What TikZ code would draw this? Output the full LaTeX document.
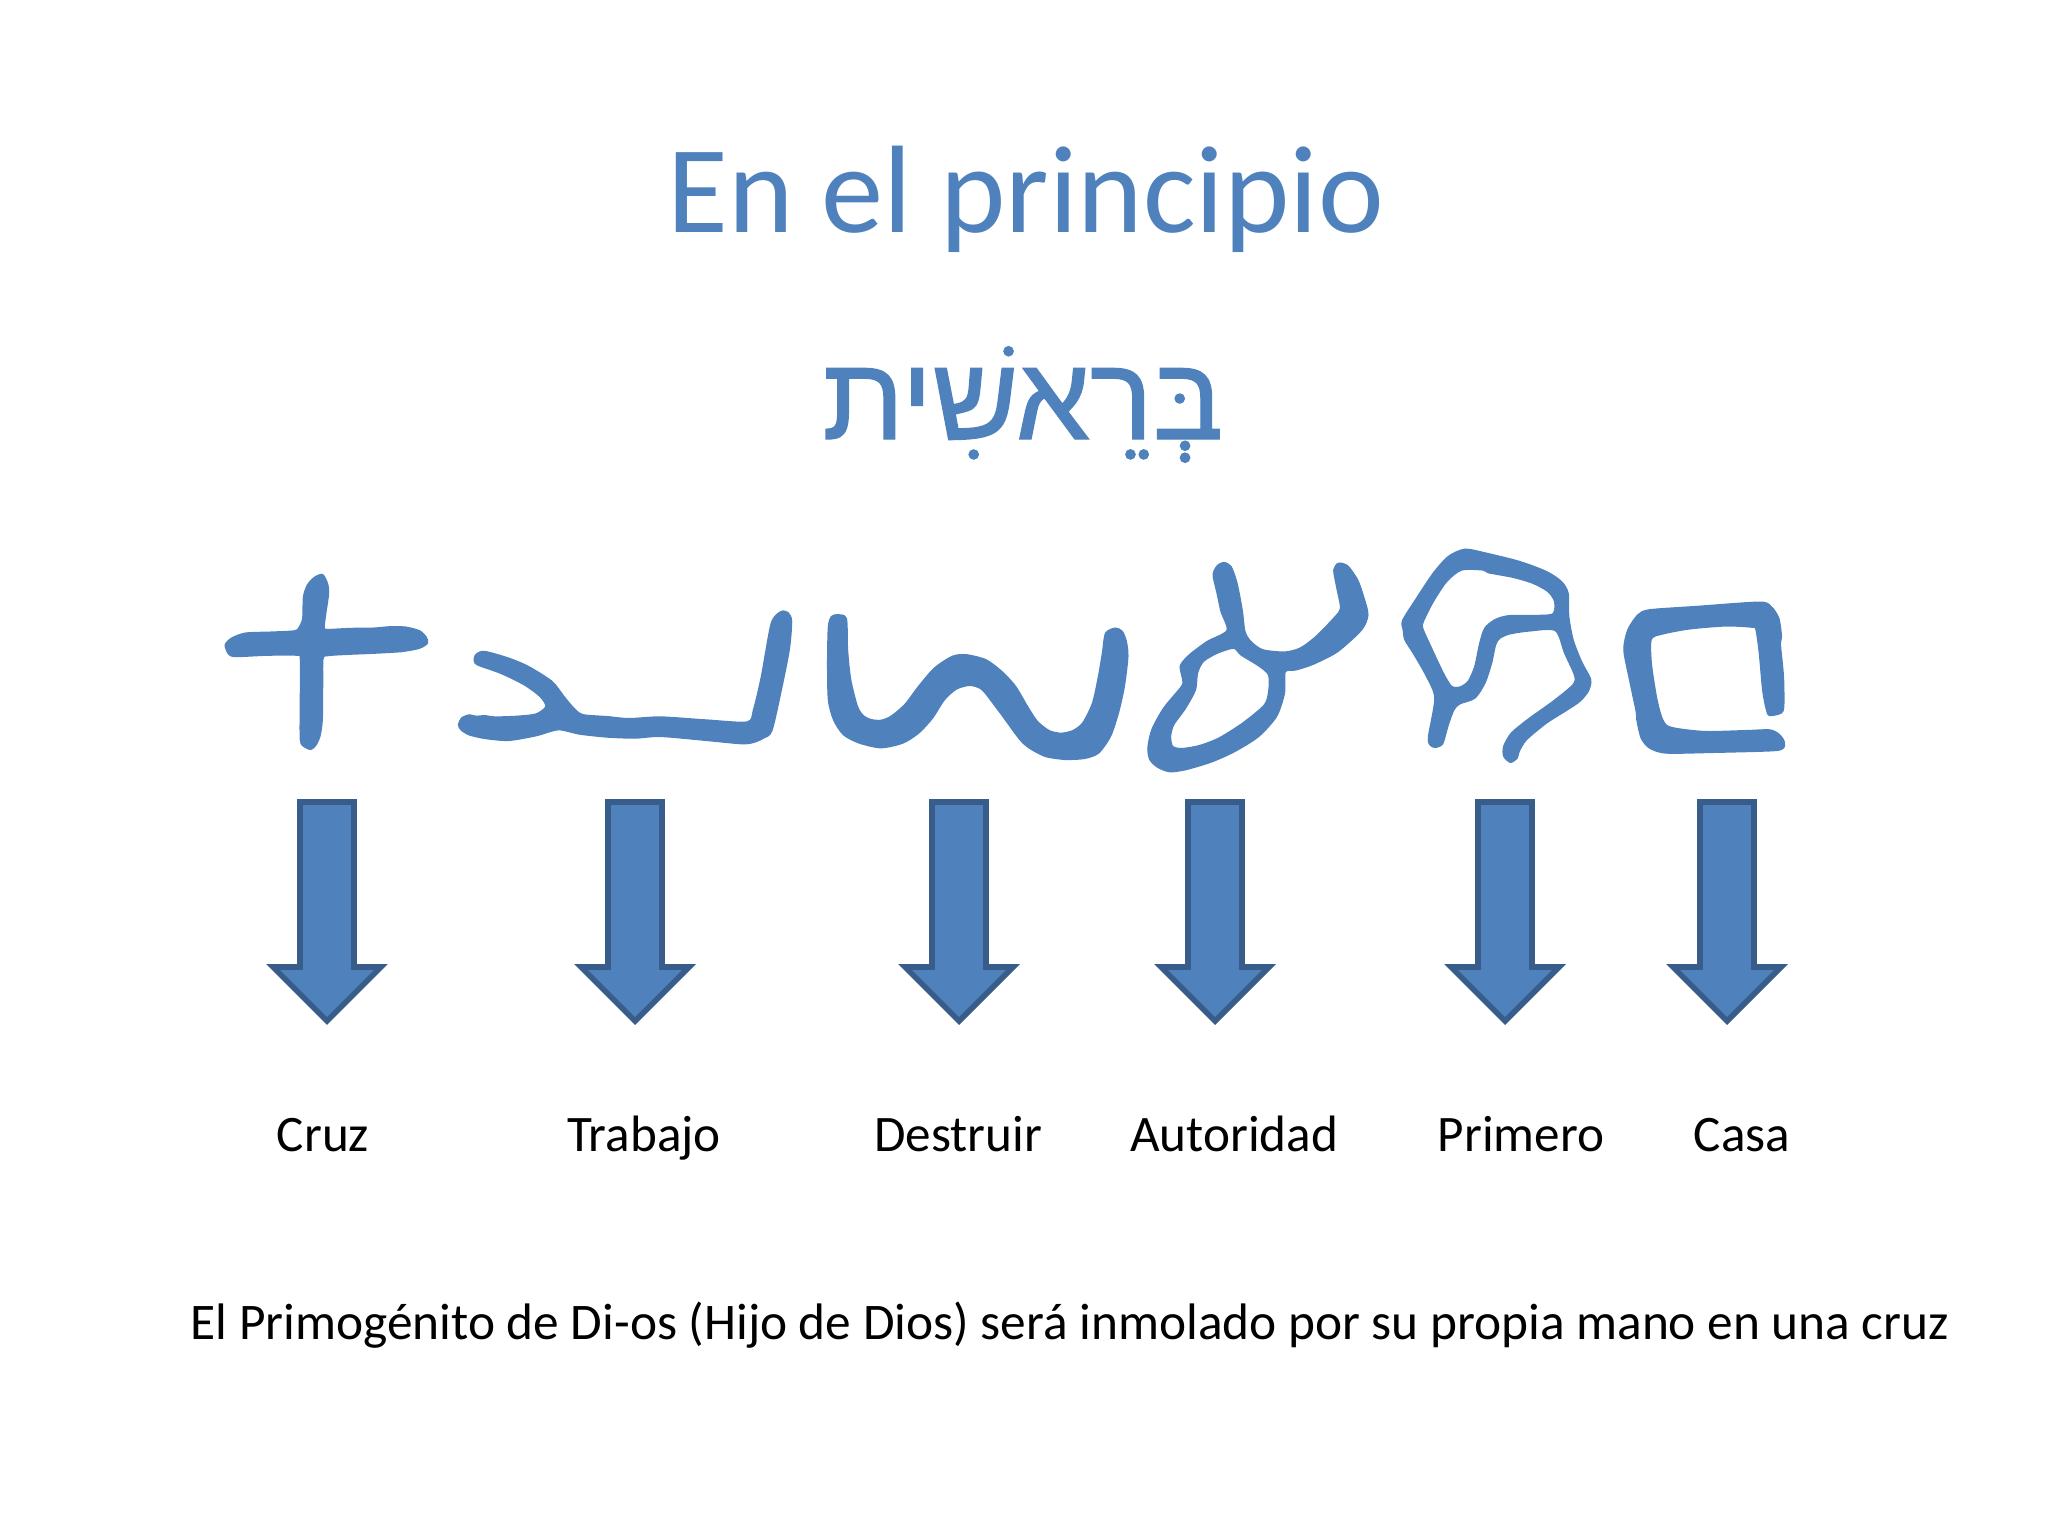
\documentclass[tikz,border=0pt]{standalone}
\usepackage{fontspec}
\setmainfont{Carlito}
\newfontfamily\hebrewfont[Script=Hebrew,FakeBold=1.2]{Liberation Sans}
\TeXXeTstate=1
\definecolor{slideblue}{HTML}{4F81BD}
\definecolor{slideedge}{HTML}{385D8A}
\tikzset{
    titletext/.style={anchor=base,text=slideblue,font=\fontsize{35.4}{42}\selectfont},
    hebrewtext/.style={anchor=base,text=slideblue,font=\fontsize{33.5}{40}\selectfont},
    wordtext/.style={anchor=base,text=black,font=\fontsize{14.55}{18}\selectfont},
    sentencetext/.style={anchor=base,text=black,font=\fontsize{14.6}{18}\selectfont},
    glyph/.style={fill=slideblue,draw=slideblue,line width=0.4pt,even odd rule},
    downarrow/.pic={
        \draw[fill=slideblue,draw=slideedge,line width=1.6pt,miter limit=10]
            (-27,802) -- (27,802) -- (27,967) -- (54,967) -- (0,1021) -- (-54,967) -- (-27,967) -- cycle;
    }
}
\begin{document}
\begin{tikzpicture}[x=0.01cm,y=-0.01cm]

        \useasboundingbox (0,0) rectangle (2048,1536);

        \node[titletext] (title) at (1026,232) {En el principio};
        \node[hebrewtext] (hebrew) at (1023,439) {\hebrewfont\beginR בְּרֵאשִׁית\endR};

        \begin{scope}[shift={(200,530)},x=0.003954cm,y=-0.00333cm]
            \filldraw[glyph] plot[smooth cycle,tension=0.45] coordinates {(310,134) (322,160) (325,190) (318,250) (314,290) (320,299) (380,296) (440,295) (480,291) (520,292) (555,303) (572,322) (575,340) (555,355) (510,365) (440,370) (380,373) (325,377) (311,386) (310,460) (309,570) (303,620) (292,648) (280,659) (265,652) (254,630) (254,500) (254,388) (245,376) (170,376) (90,380) (72,372) (64,345) (80,325) (115,310) (180,307) (240,303) (252,290) (260,265) (262,200) (272,165) (290,142)};
            \filldraw[glyph] plot[smooth cycle,tension=0.45] coordinates {(700,372) (720,365) (780,385) (830,410) (890,455) (920,500) (945,535) (968,555) (1030,561) (1085,567) (1165,562) (1280,571) (1384,577) (1400,540) (1420,440) (1445,280) (1470,245) (1488,250) (1496,275) (1490,360) (1470,480) (1446,603) (1425,625) (1400,638) (1370,642) (1280,632) (1165,620) (1100,625) (1030,622) (960,613) (906,600) (850,618) (780,632) (720,626) (680,615) (660,600) (654,585) (662,565) (680,556) (700,560) (720,558) (745,562) (800,560) (850,553) (875,530) (860,500) (820,465) (760,430) (700,404) (694,385)};
        \end{scope}

        \begin{scope}[shift={(800,530)},x=0.003954cm,y=-0.00333cm]
            \filldraw[glyph] plot[smooth cycle,tension=0.45] coordinates {(72,290) (80,260) (95,255) (117,266) (120,360) (128,450) (145,530) (160,558) (180,570) (205,572) (230,560) (265,525) (300,470) (340,415) (385,380) (420,375) (470,390) (510,425) (545,470) (575,530) (600,575) (630,603) (660,611) (690,603) (715,580) (740,520) (755,440) (765,370) (773,310) (798,295) (815,305) (825,335) (829,380) (820,470) (805,550) (785,620) (755,670) (720,686) (670,689) (620,680) (580,655) (555,628) (510,555) (465,485) (445,470) (425,467) (395,478) (365,510) (335,565) (300,610) (260,640) (205,654) (150,640) (110,615) (85,570) (72,510) (70,400)};
            \filldraw[glyph] plot[smooth cycle,tension=0.45] coordinates {(1045,135) (1055,108) (1072,98) (1090,110) (1105,160) (1118,240) (1125,305) (1140,335) (1170,360) (1225,367) (1265,355) (1305,320) (1350,265) (1367,235) (1358,175) (1350,120) (1362,100) (1385,108) (1410,150) (1425,200) (1436,255) (1420,300) (1360,365) (1300,402) (1255,420) (1227,426) (1225,490) (1205,560) (1160,620) (1100,665) (1040,697) (975,720) (935,726) (905,713) (885,690) (880,655) (890,600) (920,535) (965,470) (968,450) (962,408) (985,375) (1030,335) (1080,302) (1065,245) (1055,190)}
                plot[smooth cycle,tension=0.45] coordinates {(1097,355) (1115,375) (1160,408) (1185,435) (1186,480) (1175,525) (1120,580) (1060,625) (1010,648) (965,657) (942,650) (937,620) (945,585) (975,535) (1000,480) (1005,430) (1020,395) (1055,370)};
        \end{scope}

        \begin{scope}[shift={(1380,530)},x=0.00333cm,y=-0.00333cm]
            \filldraw[glyph] plot[smooth cycle,tension=0.45] coordinates {(68,272) (110,205) (160,130) (205,80) (255,58) (320,70) (420,95) (500,125) (545,155) (565,190) (567,260) (580,330) (605,395) (633,450) (625,485) (600,515) (560,542) (500,580) (440,630) (418,665) (412,685) (392,698) (372,680) (372,650) (395,610) (450,565) (520,515) (580,465) (585,437) (555,370) (527,302) (450,303) (390,312) (360,325) (347,345) (335,400) (315,460) (285,505) (240,522) (222,540) (205,585) (188,642) (165,653) (150,645) (146,620) (165,505) (140,440) (100,370) (75,330) (70,300)}
                plot[smooth cycle,tension=0.45] coordinates {(130,275) (160,215) (200,155) (245,120) (310,120) (325,128) (400,142) (460,160) (505,185) (525,215) (520,252) (470,257) (385,258) (345,270) (315,295) (300,340) (285,410) (265,455) (240,472) (215,470) (190,430) (150,345) (128,295)};
            \filldraw[glyph] plot[smooth cycle,tension=0.45] coordinates {(733,360) (745,300) (775,255) (810,240) (950,230) (1140,217) (1175,230) (1198,265) (1206,320) (1203,345) (1212,440) (1213,530) (1205,550) (1170,557) (1160,535) (1150,480) (1140,370) (1130,300) (1120,292) (1040,288) (930,297) (850,312) (815,328) (815,400) (830,500) (845,560) (862,588) (900,598) (980,606) (1100,603) (1172,601) (1200,615) (1214,635) (1212,655) (1180,663) (1000,668) (860,670) (810,655) (785,625) (772,570) (770,545) (750,450)};
        \end{scope}

        \pic at (327,0) {downarrow};
        \pic at (635,0) {downarrow};
        \pic at (959,0) {downarrow};
        \pic at (1215,0) {downarrow};
        \pic at (1505,0) {downarrow};
        \pic at (1727,0) {downarrow};

        \node[wordtext] (cruz) at (323,1151) {Cruz};
        \node[wordtext] (trabajo) at (644,1151) {Trabajo};
        \node[wordtext] (destruir) at (958,1151) {Destruir};
        \node[wordtext] (autoridad) at (1234,1151) {Autoridad};
        \node[wordtext] (primero) at (1521,1151) {Primero};
        \node[wordtext] (casa) at (1742,1151) {Casa};

        \node[sentencetext] (sentence) at (1070,1339) {El Primogénito de Di-os (Hijo de Dios) será inmolado por su propia mano en una cruz};

    \end{tikzpicture}
\end{document}
